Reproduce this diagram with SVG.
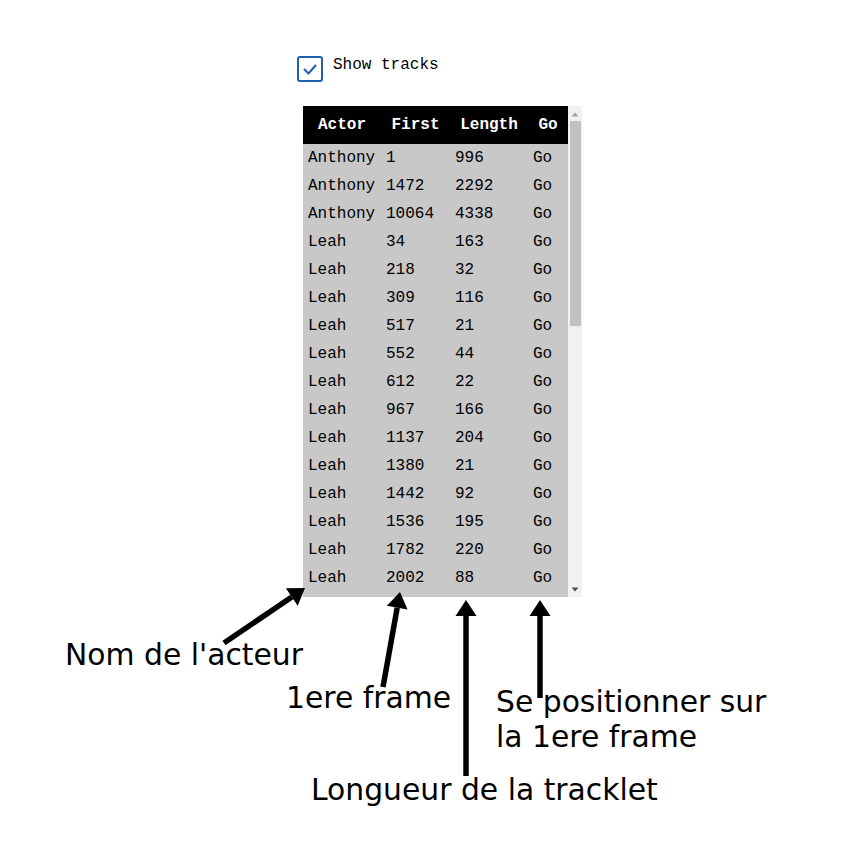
<svg xmlns="http://www.w3.org/2000/svg" width="854" height="866" viewBox="0 0 854 866">
<style>
.mono{font-family:"Liberation Mono","DejaVu Sans Mono",monospace;font-size:16px;fill:#000}
.hd{font-family:"Liberation Mono",monospace;font-size:16px;font-weight:bold;fill:#fff;text-anchor:middle}
.lbl{font-family:"DejaVu Sans",sans-serif;font-size:29.8px;fill:#000}
.arr{stroke:#000;stroke-width:5.5;fill:none}
</style>
<defs>
<marker id="ah" markerUnits="userSpaceOnUse" markerWidth="18" markerHeight="22" refX="0" refY="10.5" orient="auto" overflow="visible">
<path d="M0,0 L16,10.5 L0,21 z" fill="#000"/>
</marker>
</defs>
<rect width="854" height="866" fill="#fff"/>
<g id="checkbox">
<rect x="298" y="57" width="24" height="24" rx="2" fill="#fff" stroke="#1f5fae" stroke-width="2"/>
<path d="M304,69 L308.5,73.5 L316,65" fill="none" stroke="#1f5fae" stroke-width="2"/>
<text class="mono" x="333" y="69">Show tracks</text>
</g>
<g id="table">
<rect x="303" y="106" width="265" height="491" fill="#c8c8c8"/>
<rect x="303" y="106" width="265" height="38" fill="#000"/>
<text class="hd" x="342" y="129">Actor</text>
<text class="hd" x="415.5" y="129">First</text>
<text class="hd" x="489" y="129">Length</text>
<text class="hd" x="548" y="129">Go</text>
<g class="mono">
<text x="308" y="162">Anthony</text><text x="386" y="162">1</text><text x="455" y="162">996</text><text x="533" y="162">Go</text>
<text x="308" y="190">Anthony</text><text x="386" y="190">1472</text><text x="455" y="190">2292</text><text x="533" y="190">Go</text>
<text x="308" y="218">Anthony</text><text x="386" y="218">10064</text><text x="455" y="218">4338</text><text x="533" y="218">Go</text>
<text x="308" y="246">Leah</text><text x="386" y="246">34</text><text x="455" y="246">163</text><text x="533" y="246">Go</text>
<text x="308" y="274">Leah</text><text x="386" y="274">218</text><text x="455" y="274">32</text><text x="533" y="274">Go</text>
<text x="308" y="302">Leah</text><text x="386" y="302">309</text><text x="455" y="302">116</text><text x="533" y="302">Go</text>
<text x="308" y="330">Leah</text><text x="386" y="330">517</text><text x="455" y="330">21</text><text x="533" y="330">Go</text>
<text x="308" y="358">Leah</text><text x="386" y="358">552</text><text x="455" y="358">44</text><text x="533" y="358">Go</text>
<text x="308" y="386">Leah</text><text x="386" y="386">612</text><text x="455" y="386">22</text><text x="533" y="386">Go</text>
<text x="308" y="414">Leah</text><text x="386" y="414">967</text><text x="455" y="414">166</text><text x="533" y="414">Go</text>
<text x="308" y="442">Leah</text><text x="386" y="442">1137</text><text x="455" y="442">204</text><text x="533" y="442">Go</text>
<text x="308" y="470">Leah</text><text x="386" y="470">1380</text><text x="455" y="470">21</text><text x="533" y="470">Go</text>
<text x="308" y="498">Leah</text><text x="386" y="498">1442</text><text x="455" y="498">92</text><text x="533" y="498">Go</text>
<text x="308" y="526">Leah</text><text x="386" y="526">1536</text><text x="455" y="526">195</text><text x="533" y="526">Go</text>
<text x="308" y="554">Leah</text><text x="386" y="554">1782</text><text x="455" y="554">220</text><text x="533" y="554">Go</text>
<text x="308" y="582">Leah</text><text x="386" y="582">2002</text><text x="455" y="582">88</text><text x="533" y="582">Go</text>
</g>
</g>
<g id="scrollbar">
<rect x="568" y="106" width="14" height="491" fill="#f1f1f1"/>
<rect x="570" y="121" width="11" height="205" fill="#c1c1c1"/>
<path d="M571.5,116.5 L575,112.5 L578.5,116.5 z" fill="#a3a3a3"/>
<path d="M571.5,587.5 L575,591.5 L578.5,587.5 z" fill="#505050"/>
</g>
<g id="connectors">
<line class="arr" x1="224" y1="643" x2="291.8" y2="597" marker-end="url(#ah)"/>
<line class="arr" x1="383" y1="687" x2="397.2" y2="607.7" marker-end="url(#ah)"/>
<line class="arr" x1="466" y1="776" x2="466" y2="616" marker-end="url(#ah)"/>
<line class="arr" x1="540" y1="698" x2="540" y2="616" marker-end="url(#ah)"/>
</g>
<g id="labels">
<text class="lbl" x="65" y="665">Nom de l'acteur</text>
<text class="lbl" x="286" y="708">1ere frame</text>
<text class="lbl" x="496" y="712">Se positionner sur</text>
<text class="lbl" x="496" y="747">la 1ere frame</text>
<text class="lbl" x="311" y="800">Longueur de la tracklet</text>
</g>
</svg>
